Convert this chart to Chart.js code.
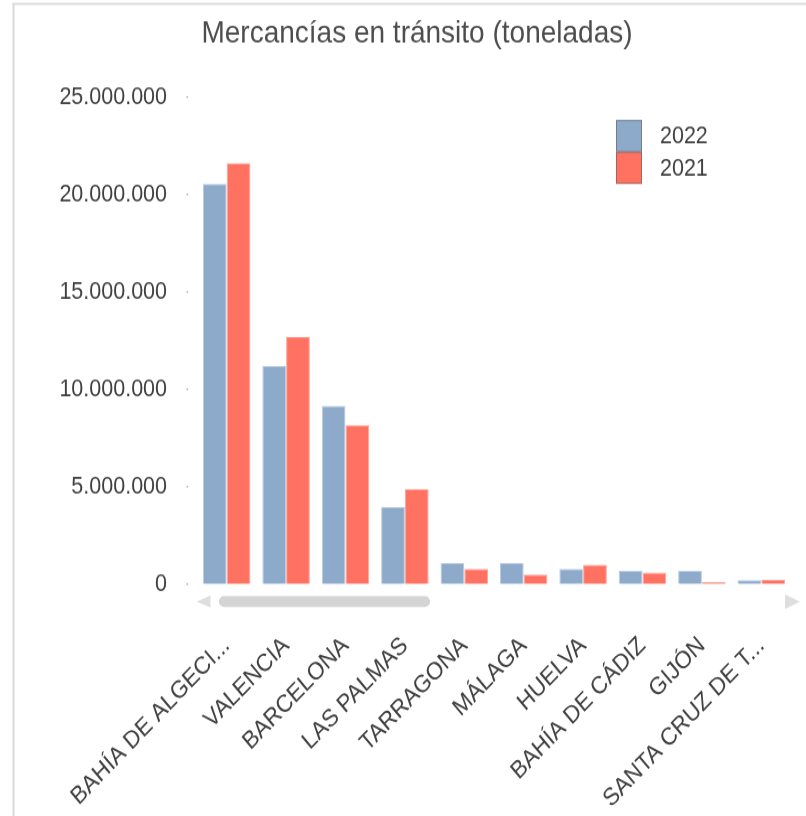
<!DOCTYPE html>
<html>
<head>
<meta charset="utf-8">
<script src="https://cdn.jsdelivr.net/npm/chart.js@4/dist/chart.umd.min.js"></script>
<style>
  html, body { margin: 0; padding: 0; background: #fff; }
  #chart { display: block; width: 806px; height: 816px; }
</style>
</head>
<body>
<!-- drawn a bit shorter and stretched to full height, like the reference screenshot -->
<canvas id="chart" width="806" height="729" style="width:806px;height:816px"></canvas>
<script>
// Data (toneladas)
const ports = ['BAHÍA DE ALGECI...', 'VALENCIA', 'BARCELONA', 'LAS PALMAS', 'TARRAGONA',
  'MÁLAGA', 'HUELVA', 'BAHÍA DE CÁDIZ', 'GIJÓN', 'SANTA CRUZ DE T...'];
const seriesLabels = ['2022', '2021'];
const tonnes2022 = [20550000, 11200000, 9150000, 3950000, 1080000, 1080000, 780000, 690000, 690000, 200000];
const tonnes2021 = [21600000, 12680000, 8160000, 4880000, 780000, 490000, 1000000, 590000, 100000, 220000];
const yMax = 25000000;
const yStep = 5000000;

const colors = {
  blue: '#8daacb',
  blueEdge: '#b9cbe0',
  red: '#ff7262',
  redEdge: '#ffa399',
  text: '#404040',
  frame: '#d9d9d9',
  scroll: '#d4d4d4',
  arrow: '#dedede'
};

const fontFamily = '"Liberation Sans", Arial, sans-serif';

function formatThousands(v) {
  return String(v).replace(/\B(?=(\d{3})+(?!\d))/g, '.');
}

// frame, fake scrollbar, y tick dots and the stacked legend
const decorPlugin = {
  id: 'decor',
  beforeDraw(chart) {
    const ctx = chart.ctx;
    ctx.save();
    ctx.fillStyle = colors.frame;
    ctx.fillRect(12.5, 2.6, 2, chart.height);
    ctx.fillRect(12.5, 2.6, chart.width, 1.8);
    ctx.restore();
  },
  afterDraw(chart) {
    const ctx = chart.ctx;
    const area = chart.chartArea;
    const yScale = chart.scales.y;
    ctx.save();

    // y tick dots
    ctx.fillStyle = '#b5b5b5';
    yScale.ticks.forEach(function(t) {
      const py = yScale.getPixelForValue(t.value);
      ctx.fillRect(area.left - 10.5, py - 0.8, 1.6, 1.6);
    });

    // scrollbar under the x axis
    const cy = area.bottom + 15.6;
    ctx.fillStyle = colors.arrow;
    ctx.beginPath();
    ctx.moveTo(area.left - 0.5, cy);
    ctx.lineTo(area.left + 13.5, cy - 5.4);
    ctx.lineTo(area.left + 13.5, cy + 5.4);
    ctx.closePath();
    ctx.fill();
    ctx.beginPath();
    ctx.moveTo(area.right + 9, cy);
    ctx.lineTo(area.right - 6, cy - 6.5);
    ctx.lineTo(area.right - 6, cy + 6.5);
    ctx.closePath();
    ctx.fill();

    ctx.fillStyle = colors.scroll;
    const tx = area.left + 22, tw = 211, th = 9.8;
    ctx.beginPath();
    ctx.roundRect(tx, cy - th / 2, tw, th, th / 2);
    ctx.fill();

    // legend: stacked boxes, top right
    const bx = area.right - 175, bw = 26, bh = 28.5;
    let by = area.top + 20.5;
    ctx.font = '21.5px ' + fontFamily;
    ctx.textBaseline = 'middle';
    ctx.textAlign = 'left';
    chart.data.datasets.forEach(function(ds) {
      ctx.fillStyle = ds.backgroundColor;
      ctx.fillRect(bx, by, bw, bh);
      ctx.strokeStyle = 'rgba(90, 90, 90, 0.55)';
      ctx.lineWidth = 1;
      ctx.strokeRect(bx + 0.5, by + 0.5, bw - 1, bh - 1);
      ctx.fillStyle = colors.text;
      ctx.fillText(ds.label, bx + 44, by + bh / 2 + 1);
      by += bh;
    });
    ctx.restore();
  }
};

new Chart(document.getElementById('chart'), {
  type: 'bar',
  data: {
    labels: ports,
    datasets: [{
      label: seriesLabels[0],
      data: tonnes2022,
      backgroundColor: colors.blue,
      borderColor: colors.blueEdge,
      borderWidth: 1
    }, {
      label: seriesLabels[1],
      data: tonnes2021,
      backgroundColor: colors.red,
      borderColor: colors.redEdge,
      borderWidth: 1
    }]
  },
  options: {
    responsive: false,
    devicePixelRatio: 1,
    animation: false,
    layout: {
      padding: { left: 43, right: 15, top: 0, bottom: 0 }
    },
    datasets: {
      bar: {
        categoryPercentage: 0.8,
        barPercentage: 1.0
      }
    },
    plugins: {
      legend: { display: false },
      tooltip: { enabled: false },
      title: {
        display: true,
        text: 'Mercancías en tránsito (toneladas)',
        color: '#4d4d4d',
        font: { family: fontFamily, size: 28, weight: 'normal', lineHeight: 1.2 },
        padding: { top: 13.6, bottom: 39.5 }
      }
    },
    scales: {
      x: {
        grid: { display: false, drawTicks: false },
        border: { display: false },
        ticks: {
          color: colors.text,
          font: { family: fontFamily, size: 22 },
          minRotation: 43,
          maxRotation: 43,
          autoSkip: false,
          padding: 42
        },
        afterFit: function(scale) {
          scale.height = 207.2;
          scale.paddingLeft = 0;
          scale.paddingRight = 0;
        }
      },
      y: {
        min: 0,
        max: yMax,
        grid: { display: false, drawTicks: false },
        border: { display: false },
        ticks: {
          stepSize: yStep,
          color: colors.text,
          font: { family: fontFamily, size: 21.5 },
          padding: 30,
          callback: function(value) {
            return formatThousands(value);
          }
        },
        afterFit: function(scale) {
          scale.width = 154;
        }
      }
    }
  },
  plugins: [decorPlugin]
});
</script>
</body>
</html>
